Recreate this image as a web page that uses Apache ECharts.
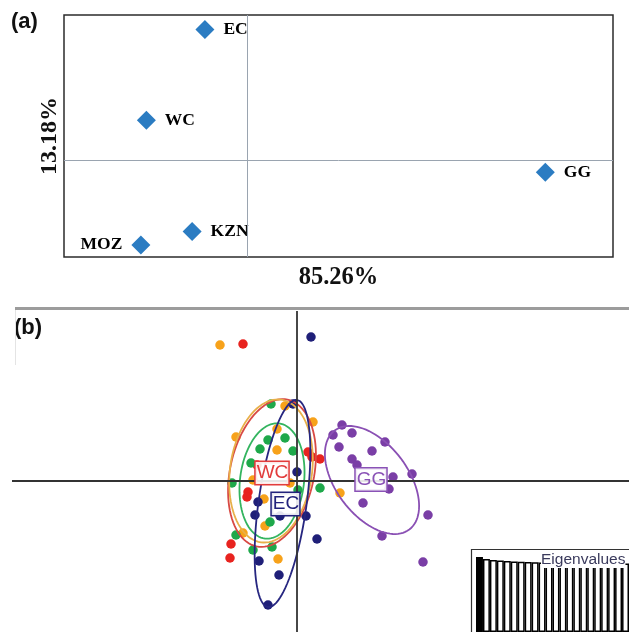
<!DOCTYPE html>
<html><head><meta charset="utf-8">
<script src="https://cdn.jsdelivr.net/npm/echarts@6/dist/echarts.min.js"></script>
<style>html,body{margin:0;padding:0;background:#fff}#c{width:629px;height:632px}</style>
</head><body><div id="c"></div>
<script>
// ---------- Panel (a): PCoA of population pairwise distances ----------
const popsA = ['EC', 'WC', 'GG', 'KZN', 'MOZ'];
const pcoaX = [-0.23, -0.55, 1.63, -0.30, -0.58];
const pcoaY = [1.08, 0.33, -0.10, -0.59, -0.70];
const axisTitlesA = ['85.26%', '13.18%'];

// ---------- Panel (b): DAPC scatter ----------
const groupsB = ['WC', 'MOZ', 'KZN', 'EC', 'GG'];
const wcPts = [[-5.4,13.7],[1.1,2.9],[1.5,2.4],[2.3,2.2],[-4.0,1.6],[-4.9,-1.1],[-5.0,-1.6],[-6.6,-6.3],[-6.7,-7.7]];
const mozPts = [[-7.7,13.6],[-1.2,7.5],[1.6,5.9],[-6.1,4.4],[-2.0,5.2],[-2.0,3.1],[-4.4,0.1],[-0.7,-0.2],[-3.3,-1.8],[4.3,-1.2],[-3.2,-4.5],[-5.4,-5.2],[-1.9,-7.8]];
const kznPts = [[-2.6,7.7],[-2.9,4.1],[-1.2,4.3],[-3.7,3.2],[-0.4,3.0],[-4.6,1.8],[-6.5,-0.2],[0.1,-0.9],[2.3,-0.7],[-2.7,-4.1],[-6.1,-5.4],[-4.4,-6.9],[-2.5,-6.6]];
const ecPts = [[1.4,14.4],[-0.4,7.7],[0.0,0.9],[-3.9,-2.1],[-4.2,-3.4],[-1.7,-3.5],[0.9,-3.5],[2.0,-5.8],[-3.8,-8.0],[-1.8,-9.4],[-2.9,-12.4]];
const ggPts = [[4.5,5.6],[3.6,4.6],[5.5,4.8],[4.2,3.4],[8.8,3.9],[7.5,3.0],[5.5,2.2],[6.0,1.6],[9.6,0.4],[11.5,0.7],[9.2,-0.8],[6.6,-2.2],[13.1,-3.4],[8.5,-5.5],[12.6,-8.1]];
const pointsB = [wcPts, mozPts, kznPts, ecPts, ggPts];

// inertia ellipses (centre, semi-axes, angle in degrees) per group, same order as groupsB
const ellCx = [-2.5, -2.6, -2.5, -1.45, 7.5];
const ellCy = [0.8, 1.0, 0.0, -2.25, 0.1];
const ellA = [7.5, 7.2, 5.8, 10.45, 6.2];
const ellB = [4.2, 4.1, 3.2, 2.4, 3.6];
const ellAngle = [78, 82, 83, 82, -53];

// group labels shown at centroids
const centroidLabels = ['WC', 'EC', 'GG'];
const centroidX = [-2.5, -1.15, 7.4];
const centroidY = [0.8, -2.3, 0.15];

// eigenvalues inset
const eigenValues = [75, 73, 72, 71.5, 71, 70.5, 70.2, 70, 69.8, 69.6, 69.5, 69.4, 69.3, 69.2, 69.1, 69, 68.9, 68.8, 68.7, 68.6, 68.5, 68.4];

// ---------- styles ----------
const pointColors = {WC:'#e8231f', MOZ:'#f7a21a', KZN:'#1ea84a', EC:'#1f1f78', GG:'#7a3ea6'};
const ellipseColors = {WC:'#d84a44', MOZ:'#e8b04a', KZN:'#33b45f', EC:'#262680', GG:'#8a50b4'};
const labelColors = {WC:'#e23c3c', EC:'#22227c', GG:'#8a52b6'};

function ellipseRender(params, api) {
  const cx = api.value(0), cy = api.value(1), a = api.value(2), b = api.value(3);
  const ang = api.value(4) * Math.PI / 180;
  const pts = [];
  for (let i = 0; i <= 96; i++) {
    const t = i / 96 * 2 * Math.PI;
    const dx = a * Math.cos(t), dy = b * Math.sin(t);
    pts.push(api.coord([cx + dx * Math.cos(ang) - dy * Math.sin(ang), cy + dx * Math.sin(ang) + dy * Math.cos(ang)]));
  }
  return {type: 'polyline', shape: {points: pts}, style: {fill: null, stroke: api.visual('color'), lineWidth: 1.8}};
}

const chart = echarts.init(document.getElementById('c'), null, {renderer: 'canvas'});

const hidden = {axisLine:{show:false}, axisTick:{show:false}, axisLabel:{show:false}, splitLine:{show:false}};

const series = [];
// panel a
series.push({
  type: 'scatter', xAxisIndex: 0, yAxisIndex: 0, symbol: 'diamond', symbolSize: [19, 19],
  itemStyle: {color: '#2b7cc2', opacity: 1},
  data: popsA.map((p, i) => ({name: p, value: [pcoaX[i], pcoaY[i]],
    label: {position: p === 'MOZ' ? 'left' : 'right'}})),
  label: {show: true, formatter: '{b}', distance: 9, color: '#000',
    fontFamily: 'Liberation Serif', fontWeight: 'bold', fontSize: 17.5},
  markLine: {silent: true, symbol: 'none', label: {show: false},
    lineStyle: {color: '#9aa4b0', width: 1, type: 'solid', opacity: 1},
    data: [{xAxis: 0}, {yAxis: 0}]},
  z: 3
});
// panel b points
groupsB.forEach((g, gi) => {
  const s = {
    type: 'scatter', xAxisIndex: 1, yAxisIndex: 1, name: g, symbolSize: 9.5,
    itemStyle: {color: pointColors[g], opacity: 1},
    data: pointsB[gi], z: 3
  };
  if (gi === 0) {
    s.markLine = {silent: true, symbol: 'none', label: {show: false},
      lineStyle: {color: '#333', width: 1.8, type: 'solid', opacity: 1},
      data: [{xAxis: 0}, {yAxis: 0}]};
  }
  series.push(s);
});
// ellipses
series.push({
  type: 'custom', xAxisIndex: 1, yAxisIndex: 1, renderItem: ellipseRender, z: 4, silent: true,
  data: groupsB.map((g, i) => ({value: [ellCx[i], ellCy[i], ellA[i], ellB[i], ellAngle[i]],
    itemStyle: {color: ellipseColors[g]}}))
});
// centroid labels
series.push({
  type: 'scatter', xAxisIndex: 1, yAxisIndex: 1, symbolSize: 0, itemStyle: {color: '#fff', opacity: 1}, z: 6,
  data: centroidLabels.map((g, i) => ({name: g, value: [centroidX[i], centroidY[i]],
    label: {color: labelColors[g], borderColor: labelColors[g]}})),
  label: {show: true, position: 'inside', formatter: '{b}', fontFamily: 'Liberation Sans', fontSize: 19,
    lineHeight: 20, borderWidth: 1.5, backgroundColor: 'rgba(255,255,255,0.88)', padding: [2, 0, 0, 1], opacity: 1}
});
// eigenvalues bars
series.push({
  type: 'bar', xAxisIndex: 2, yAxisIndex: 2, barCategoryGap: '0%', silent: true,
  itemStyle: {color: '#fff', borderColor: '#000', borderWidth: 1.5},
  data: eigenValues.map((v, i) => i === 0 ? {value: v, itemStyle: {color: '#000'}} : v), z: 2
});

const option = {
  animation: false,
  backgroundColor: '#fff',
  grid: [
    {left: 64, top: 15, width: 549, height: 242, show: true, borderColor: '#2b2b2b', borderWidth: 1.5, backgroundColor: 'transparent'},
    {left: 12, top: 311, right: 0, bottom: 0},
    {left: 476, top: 549, right: 0, bottom: 0}
  ],
  xAxis: [
    Object.assign({gridIndex: 0, type: 'value', min: -1, max: 2, name: axisTitlesA[0], nameLocation: 'middle', nameGap: 8,
      nameTextStyle: {fontFamily: 'Liberation Serif', fontWeight: 'bold', fontSize: 24.5, color: '#111'}}, hidden),
    Object.assign({gridIndex: 1, type: 'value', min: -28.5, max: 33.2}, hidden),
    Object.assign({gridIndex: 2, type: 'category', data: eigenValues.map((v, i) => String(i + 1))}, hidden)
  ],
  yAxis: [
    Object.assign({gridIndex: 0, type: 'value', min: -0.8, max: 1.2, name: axisTitlesA[1], nameLocation: 'middle', nameGap: 2,
      nameRotate: 90, nameTextStyle: {fontFamily: 'Liberation Serif', fontWeight: 'bold', fontSize: 24, color: '#111'}}, hidden),
    Object.assign({gridIndex: 1, type: 'value', min: -15.1, max: 17.0}, hidden),
    Object.assign({gridIndex: 2, type: 'value', min: 0, max: 83}, hidden)
  ],
  graphic: [
    {type: 'text', left: 11, top: 11, z: 100, style: {text: '(a)', font: 'bold 22px "Liberation Sans"', fill: '#111'}},
    {type: 'text', left: 14, top: 317, z: 100, style: {text: '(b)', font: 'bold 22px "Liberation Sans"', fill: '#111'}},
    {type: 'line', z: 100, shape: {x1: 15, y1: 308.5, x2: 629, y2: 308.5}, style: {stroke: '#9c9c9c', lineWidth: 3}},
    {type: 'line', z: 100, shape: {x1: 15.5, y1: 310, x2: 15.5, y2: 365}, style: {stroke: '#e4e4e4', lineWidth: 1}},
    {type: 'rect', z: 100, shape: {x: 471.5, y: 549.5, width: 170, height: 100}, style: {fill: null, stroke: '#333', lineWidth: 1.2}},
    {type: 'text', z: 101, left: 541, top: 552, style: {text: 'Eigenvalues', font: '15.5px "Liberation Sans"', fill: '#3a3a5c', backgroundColor: '#fff'}}
  ],
  series: series
};
chart.setOption(option);
</script>
</body></html>
